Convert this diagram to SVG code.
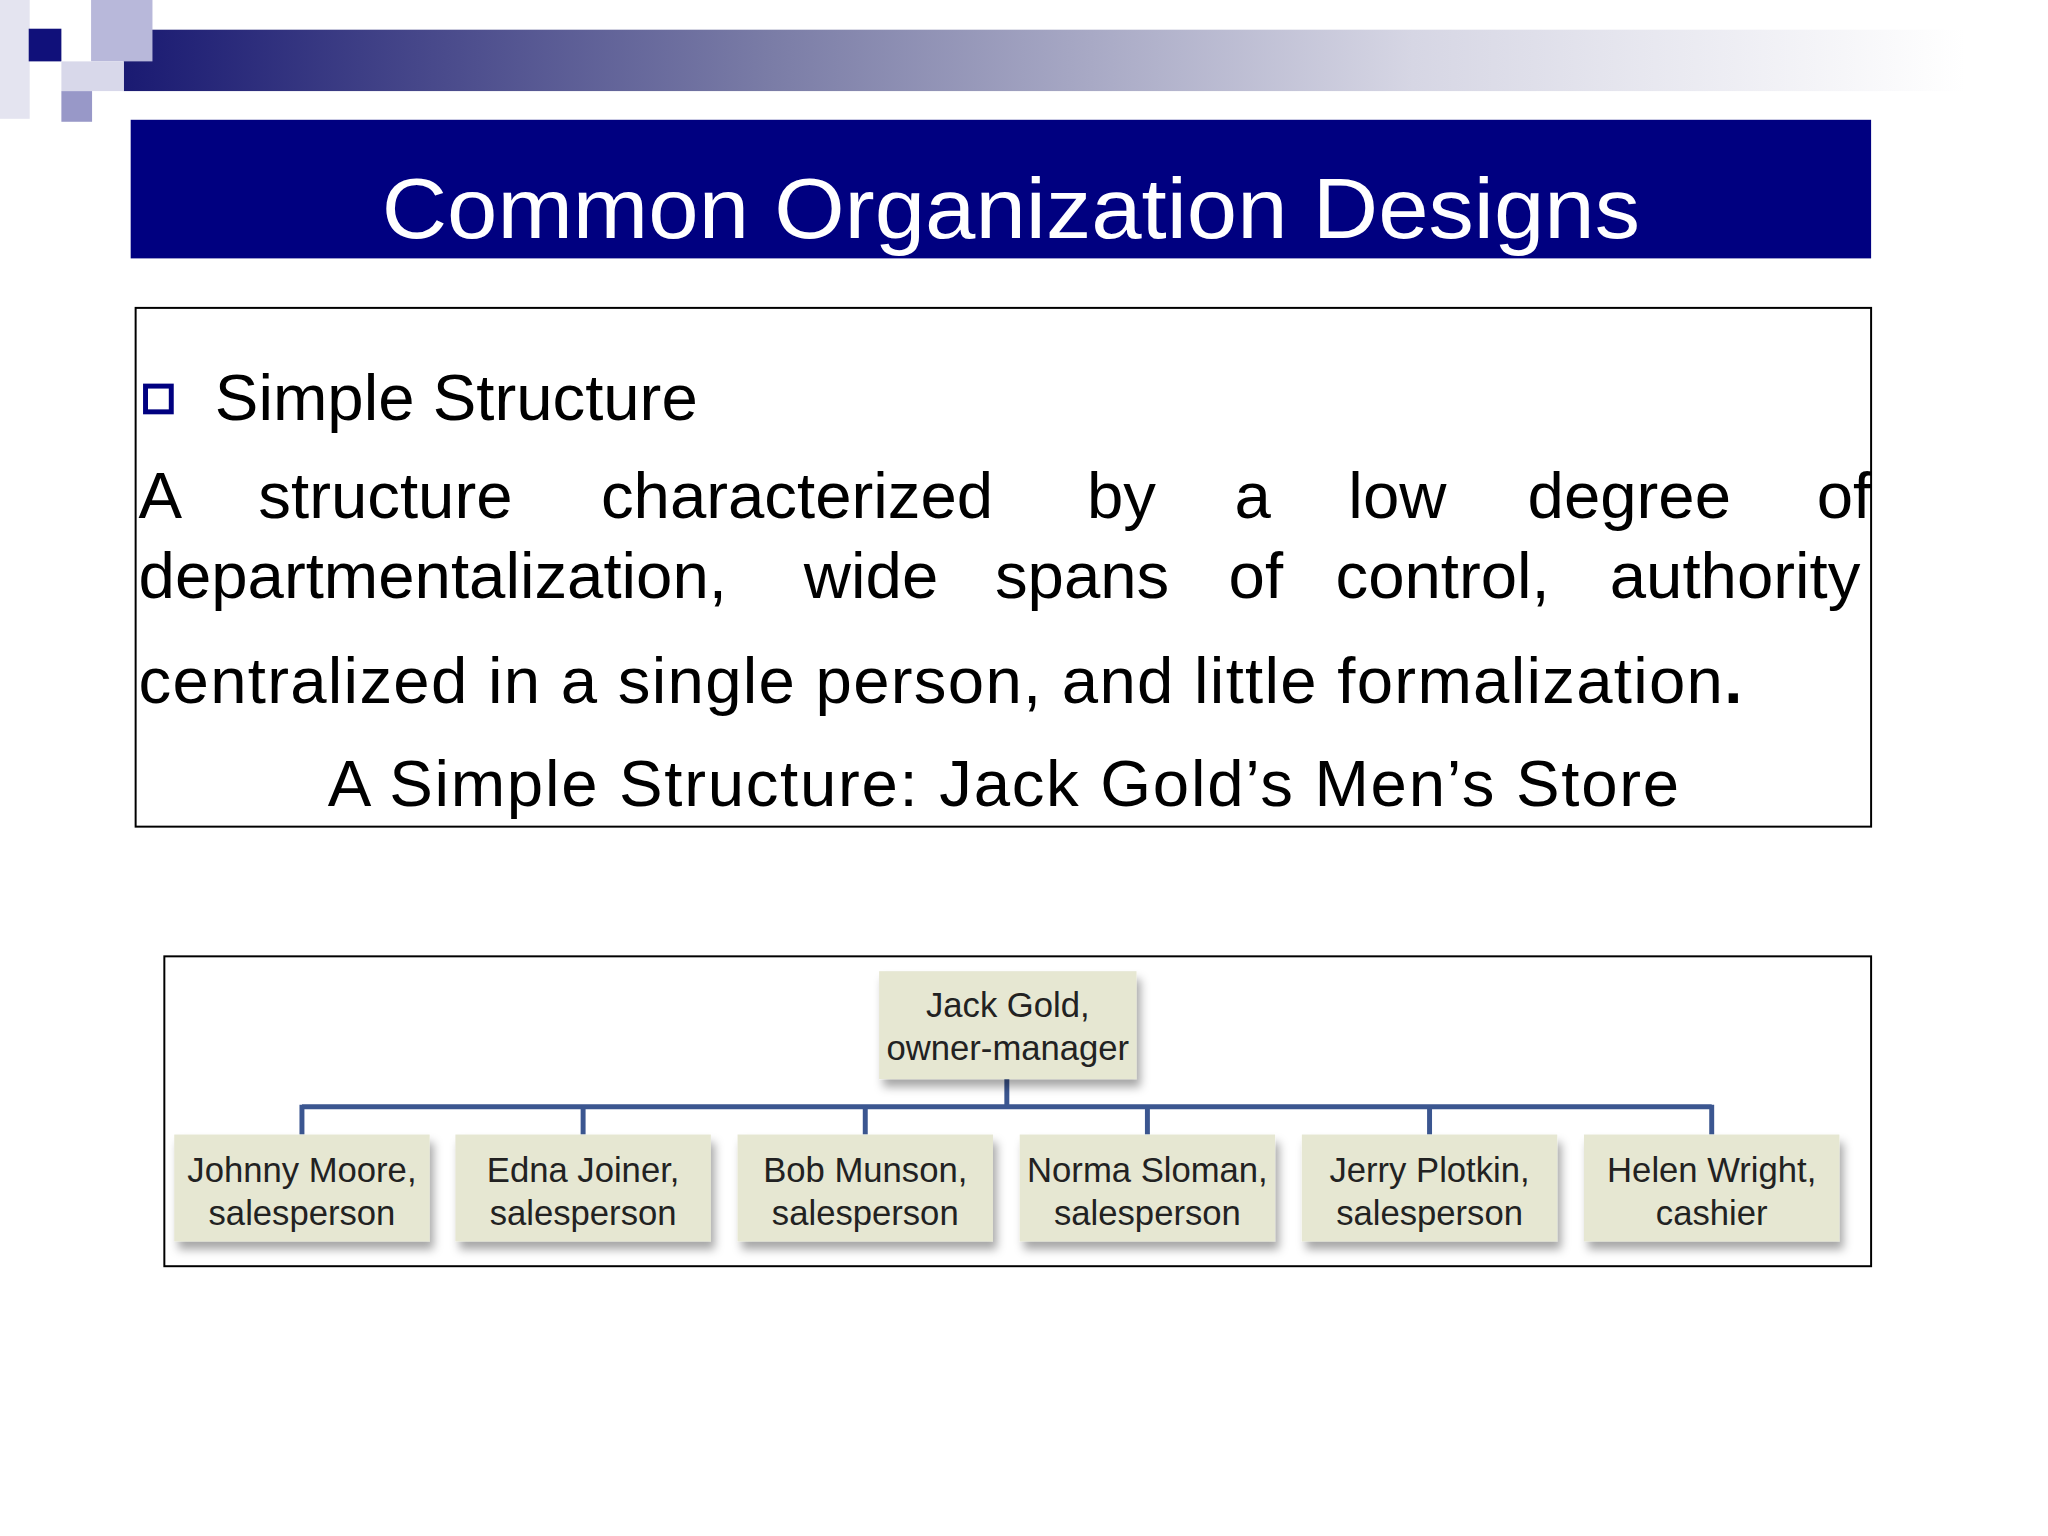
<svg xmlns="http://www.w3.org/2000/svg" width="2048" height="1536" viewBox="0 0 2048 1536">
<defs>
<linearGradient id="bar" x1="0" x2="1" y1="0" y2="0">
<stop offset="0" stop-color="#1a1a72"/>
<stop offset="0.35" stop-color="#7a7ca6"/>
<stop offset="0.7" stop-color="#d6d6e4"/>
<stop offset="1" stop-color="#ffffff"/>
</linearGradient>
<filter id="sh" x="-10%" y="-10%" width="130%" height="140%">
<feDropShadow dx="4" dy="8" stdDeviation="5" flood-color="#000" flood-opacity="0.35"/>
</filter>
<style>
.t{font-family:"Liberation Sans",Arial,sans-serif;fill:#000}
.n{fill:#e6e7d2;filter:url(#sh)}
.nt{font-family:"Liberation Sans",Arial,sans-serif;font-size:35px;fill:#222;text-anchor:middle}
.c{stroke:#3b5690;stroke-width:5;fill:none}
</style>
</defs>
<rect width="2048" height="1536" fill="#fff"/>
<g transform="scale(0.99)">
<g id="decor">
<rect x="125" y="30" width="1860" height="62" fill="url(#bar)"/>
<rect x="0" y="0" width="30" height="120" fill="#e4e4f0"/>
<rect x="92" y="0" width="62" height="62" fill="#b8b8da"/>
<rect x="29" y="29" width="33" height="33" fill="#10107a"/>
<rect x="62" y="92" width="31" height="31" fill="#9898c8"/>
<rect x="62" y="62" width="63" height="30" fill="#d8d8ea"/>
</g>
<g id="title">
<rect x="132" y="121" width="1758" height="140" fill="#000080"/>
<text x="1021" y="240" text-anchor="middle" font-family="Liberation Sans,Arial,sans-serif" font-size="86" fill="#fff" textLength="1271" lengthAdjust="spacingAndGlyphs">Common Organization Designs</text>
</g>
<g id="textbox">
<rect x="137" y="311" width="1753" height="524" fill="none" stroke="#000" stroke-width="2"/>
<rect x="147" y="390" width="26" height="26" fill="none" stroke="#000080" stroke-width="5"/>
<text class="t" x="217" y="424" font-size="66">Simple Structure</text>
<g class="t" font-size="66">
<text x="140" y="523">A</text><text x="261" y="523">structure</text><text x="607" y="523">characterized</text><text x="1098" y="523">by</text><text x="1247" y="523">a</text><text x="1362" y="523">low</text><text x="1543" y="523">degree</text><text x="1835" y="523">of</text>
<text x="140" y="604">departmentalization,</text><text x="812" y="604">wide</text><text x="1005" y="604">spans</text><text x="1241" y="604">of</text><text x="1349" y="604">control,</text><text x="1626" y="604">authority</text>
<text x="140" y="710" textLength="1620">centralized in a single person, and little formalization<tspan font-weight="bold">.</tspan></text>
<text x="331" y="814" textLength="1365">A Simple Structure:  Jack Gold’s Men’s Store</text>
</g>
</g>
<rect x="166" y="966" width="1724" height="313" fill="none" stroke="#000" stroke-width="2"/>
<g id="connectors">
<path class="c" d="M1017 1090V1118M305 1118H1729M305 1116V1146M589 1116V1146M874 1116V1146M1159 1116V1146M1444 1116V1146M1729 1116V1146"/>
</g>
<g id="jack"><rect class="n" x="888" y="981" width="260" height="109"/><text class="nt" x="1018" y="1027">Jack Gold,</text><text class="nt" x="1018" y="1071">owner-manager</text></g>
<g id="johnny"><rect class="n" x="176" y="1146" width="258" height="108"/><text class="nt" x="305" y="1194">Johnny Moore,</text><text class="nt" x="305" y="1237">salesperson</text></g>
<g id="edna"><rect class="n" x="460" y="1146" width="258" height="108"/><text class="nt" x="589" y="1194">Edna Joiner,</text><text class="nt" x="589" y="1237">salesperson</text></g>
<g id="bob"><rect class="n" x="745" y="1146" width="258" height="108"/><text class="nt" x="874" y="1194">Bob Munson,</text><text class="nt" x="874" y="1237">salesperson</text></g>
<g id="norma"><rect class="n" x="1030" y="1146" width="258" height="108"/><text class="nt" x="1159" y="1194">Norma Sloman,</text><text class="nt" x="1159" y="1237">salesperson</text></g>
<g id="jerry"><rect class="n" x="1315" y="1146" width="258" height="108"/><text class="nt" x="1444" y="1194">Jerry Plotkin,</text><text class="nt" x="1444" y="1237">salesperson</text></g>
<g id="helen"><rect class="n" x="1600" y="1146" width="258" height="108"/><text class="nt" x="1729" y="1194">Helen Wright,</text><text class="nt" x="1729" y="1237">cashier</text></g>
</g>
</svg>
